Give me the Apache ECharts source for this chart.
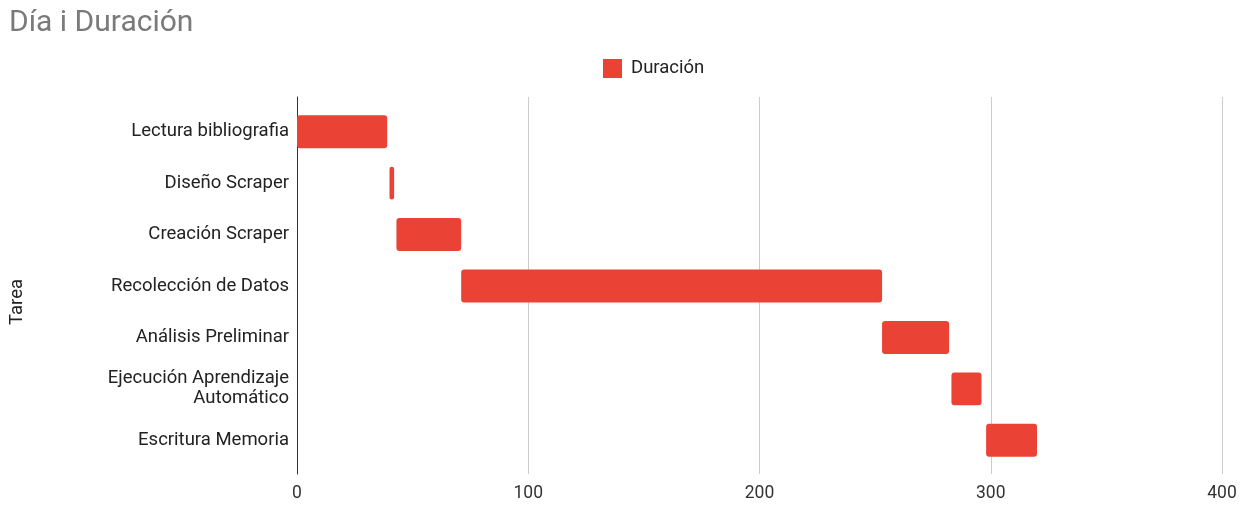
<!DOCTYPE html>
<html>
<head>
<meta charset="utf-8">
<script src="https://cdn.jsdelivr.net/npm/echarts@6/dist/echarts.min.js"></script>
<style>
  html, body { margin: 0; padding: 0; background: #fff; }
  #chart { width: 1251px; height: 505px; }
</style>
</head>
<body>
<div id="chart"></div>
<script>
var tareas = ['Lectura bibliografia', 'Diseño Scraper', 'Creación Scraper', 'Recolección de Datos',
  'Análisis Preliminar', 'Ejecución Aprendizaje\nAutomático', 'Escritura Memoria'];
var dia = [0, 40, 43, 71, 253, 283, 298];
var duracion = [39, 2, 28, 182, 29, 13, 22];
var xTicks = [0, 100, 200, 300, 400];

var myChart = echarts.init(document.getElementById('chart'));
// grid 0 carries the gridlines, tick labels and the long axis line
// grid 1 carries the bars (inset a little, like the original)
var option = {
	animation : false,
	textStyle : { fontFamily : 'Roboto, Arial, sans-serif' },
	title : {
		text : 'Día i Duración',
		left : 4,
		top : 3,
		textStyle : { fontSize : 30, fontWeight : 'normal', color : '#7a7a7a' }
	},
	legend : {
		data : [ 'Duración' ],
		top : 59,
		left : 603,
		icon : 'rect',
		itemWidth : 19,
		itemHeight : 19,
		itemGap : 8,
		padding : 0,
		textStyle : { fontSize : 18.5, color : '#222', padding : [0, 0, 0, 4] }
	},
	grid : [
		{ left : 297, right : 29, top : 97, bottom : 31 },
		{ left : 297, right : 29, top : 106, bottom : 39 }
	],
	xAxis : [ {
		type : 'value',
		gridIndex : 0,
		min : xTicks[0],
		max : xTicks[xTicks.length - 1],
		interval : 100,
		axisLine : { show : false },
		axisTick : { show : false },
		axisLabel : { color : '#333', fontSize : 17.5, margin : 11 },
		splitLine : { lineStyle : { color : '#ccc', width : 1 } }
	}, {
		type : 'value',
		gridIndex : 1,
		min : xTicks[0],
		max : xTicks[xTicks.length - 1],
		show : false
	} ],
	yAxis : [ {
		type : 'value',
		gridIndex : 0,
		axisLine : { show : true, lineStyle : { color : '#333', width : 1 } },
		axisTick : { show : false },
		axisLabel : { show : false },
		splitLine : { show : false }
	}, {
		type : 'category',
		gridIndex : 1,
		data : tareas,
		inverse : true,
		name : 'Tarea',
		nameLocation : 'middle',
		nameGap : 270,
		nameTextStyle : { color : '#222', fontSize : 18.5, padding : [0, 0, 0, -32] },
		axisLine : { show : false },
		axisTick : { show : false },
		axisLabel : { color : '#222', fontSize : 18.5, margin : 8, lineHeight : 20 }
	} ],
	series : [ {
		name : 'Día',
		type : 'bar',
		stack : 'gantt',
		xAxisIndex : 1,
		yAxisIndex : 1,
		silent : true,
		itemStyle : { color : 'transparent' },
		data : dia
	}, {
		name : 'Duración',
		type : 'bar',
		stack : 'gantt',
		xAxisIndex : 1,
		yAxisIndex : 1,
		barCategoryGap : '36%',
		itemStyle : { color : '#EA4335', borderRadius : 3 },
		data : duracion
	} ]
};
myChart.setOption(option);
</script>
</body>
</html>
